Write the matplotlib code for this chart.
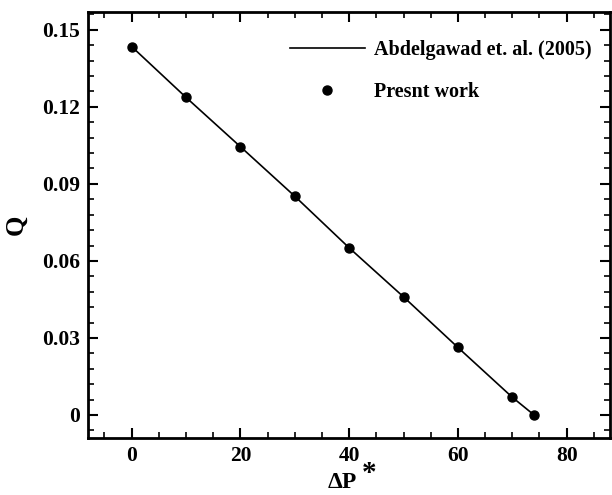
import matplotlib.pyplot as plt
from matplotlib.ticker import MultipleLocator

# --- Data ---
dp_ref = [0, 10, 20, 30, 40, 50, 60, 70, 74]
q_ref = [0.1435, 0.1237, 0.1045, 0.0852, 0.0651, 0.0460, 0.0263, 0.0069, 0.0]

dp_present = [0, 10, 20, 30, 40, 50, 60, 70, 74]
q_present = [0.1435, 0.1237, 0.1045, 0.0852, 0.0651, 0.0460, 0.0263, 0.0069, 0.0]

x_ticks = [0, 20, 40, 60, 80]
y_ticks = [0, 0.03, 0.06, 0.09, 0.12, 0.15]
y_tick_labels = ["0", "0.03", "0.06", "0.09", "0.12", "0.15"]

plt.rcParams['font.family'] = ['Liberation Serif', 'DejaVu Serif']
plt.rcParams['font.weight'] = 'bold'


def main():
    fig = plt.figure(figsize=(6.12, 4.95), dpi=100)
    ax = fig.add_axes([0.144, 0.115, 0.853, 0.861])

    ax.plot(dp_ref, q_ref, color='black', linewidth=1.2,
            label='Abdelgawad et. al. (2005)')
    ax.plot(dp_present, q_present, 'o', color='black', markersize=6.5,
            label='Presnt work')

    ax.set_xlim(-8, 88)
    ax.set_ylim(-0.009, 0.157)
    ax.set_xticks(x_ticks)
    ax.set_yticks(y_ticks)
    ax.set_yticklabels(y_tick_labels)
    ax.xaxis.set_minor_locator(MultipleLocator(5))
    ax.yaxis.set_minor_locator(MultipleLocator(0.006))

    ax.tick_params(which='both', direction='in', top=True, right=True,
                   labelsize=15.5, width=1.2)
    ax.tick_params(which='major', length=7, width=1.5, pad=6)
    ax.tick_params(which='minor', length=4)
    for s in ax.spines.values():
        s.set_linewidth(2)

    ax.set_xlabel('ΔP', fontsize=17, fontweight='bold')
    ax.xaxis.set_label_coords(0.4875, -0.118)
    ax.xaxis.label.set_va('baseline')
    # big raised asterisk after the label
    ax.text(0.524, -0.101, '*', transform=ax.transAxes, fontsize=21,
            fontweight='bold', ha='left', va='baseline')
    ax.set_ylabel('Q', fontsize=19, fontweight='bold', labelpad=10)

    ax.legend(loc='upper left', bbox_to_anchor=(0.387, 0.935), frameon=False,
              borderpad=0, borderaxespad=0, handlelength=3.7,
              handletextpad=0.45, labelspacing=1.1,
              prop={'size': 14.5, 'weight': 'bold'})

    fig.savefig('out.png', dpi=100)


if __name__ == "__main__":
    main()
